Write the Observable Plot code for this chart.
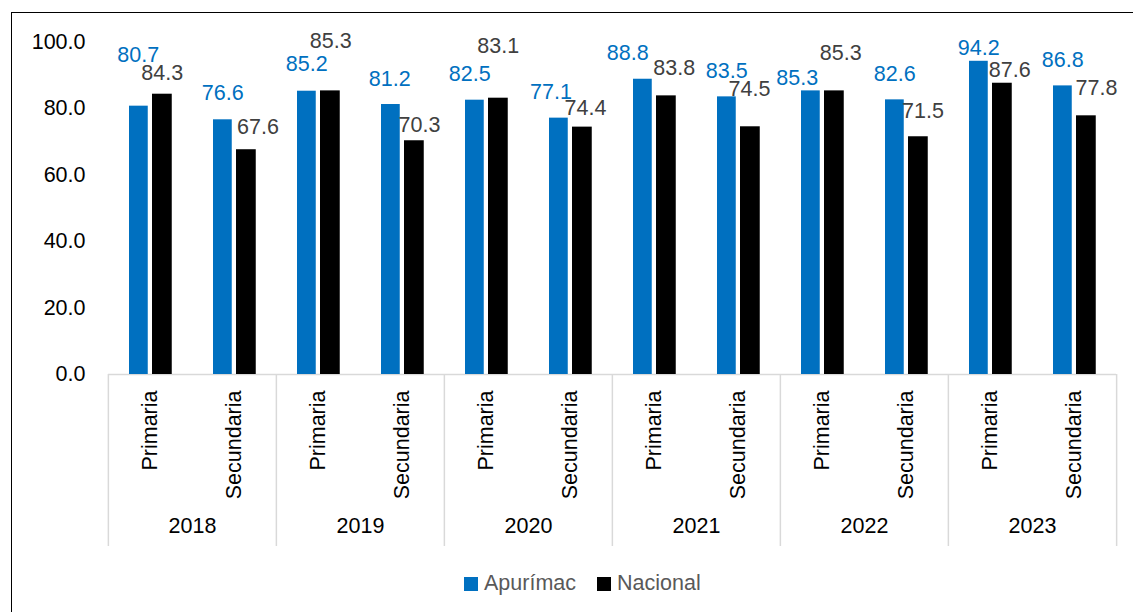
<!DOCTYPE html>
<html><head><meta charset="utf-8">
<script src="https://cdn.jsdelivr.net/npm/d3@7"></script>
<script src="https://cdn.jsdelivr.net/npm/@observablehq/plot@0.6"></script>
<style>
body{margin:0;width:1133px;height:612px;overflow:hidden;background:#fff;font-family:"Liberation Sans",Arial,sans-serif;position:relative}
#frame{position:absolute;left:11px;top:12px;width:1300px;height:800px;border-left:1.5px solid #000;border-top:1.5px solid #000;box-sizing:border-box}
#chart{position:absolute;left:0;top:0}
#legend{position:absolute;top:571px;left:464px;display:flex;align-items:center;font-size:21.5px;color:#595959;white-space:nowrap}
#legend .sw{width:14px;height:14px;display:inline-block;margin-right:6px}
#legend .it{display:flex;align-items:center;margin-right:21px}
</style></head>
<body>
<div id="frame"></div>
<div id="chart"></div>
<div id="legend"></div>
<script>
const years = ["2018","2019","2020","2021","2022","2023"];
const levels = ["Primaria","Secundaria"];
const series = ["Apurímac","Nacional"];
const apurimac = [80.7,76.6,85.2,81.2,82.5,77.1,88.8,83.5,85.3,82.6,94.2,86.8];
const nacional = [84.3,67.6,85.3,70.3,83.1,74.4,83.8,74.5,85.3,71.5,87.6,77.8];
const yTicks = [0,20,40,60,80,100];
const colors = {"Apurímac":"#0070C0","Nacional":"#000000"};
const labelColors = {"Apurímac":"#0070C0","Nacional":"#404040"};

// label nudges (pixels) relative to bar center/top, as placed in the original
const apNudge = [[-0.5,-50.7],[0,-26.3],[0,-26.7],[-1,-25],[-5,-25.7],[-7.75,-25.6],[-15,-25.7],[0,-25.4],[-13.5,-12.4],[0,-25.4],[0,-12.8],[0,-25.4]];
const naNudge = [[0,-20.7],[11.75,-22.2],[0.5,-49.4],[5.25,-15.3],[0,-51.7],[3.25,-18.6],[8,-27.4],[-0.75,-37.3],[6.5,-37.4],[4.75,-25.3],[7.5,-12.7],[10.25,-27.3]];

const rows = [];
years.forEach((yr, i) => levels.forEach((lv, j) => {
  const k = i*2 + j;
  rows.push({year: yr, level: lv, series: series[0], value: apurimac[k], nudge: apNudge[k]});
  rows.push({year: yr, level: lv, series: series[1], value: nacional[k], nudge: naNudge[k]});
}));

const fs = 21.5;
const bandHalf = 11.75;
const labelMarks = rows.map(r => Plot.text([r], {
  fx: "year", x: "level", y: "value",
  text: d => d3.format(".1f")(d.value),
  fill: labelColors[r.series], fontSize: fs,
  dx: (r.series === series[0] ? -bandHalf : bandHalf) + r.nudge[0],
  dy: r.nudge[1]
}));

const plot = Plot.plot({
  width: 1133, height: 560,
  marginLeft: 106, marginRight: 16, marginTop: 41.5, marginBottom: 186,
  style: {fontFamily: '"Liberation Sans", Arial, sans-serif', fontSize: fs + "px", background: "transparent", color: "#000"},
  fx: {domain: years, padding: 0, axis: null},
  x: {domain: levels, padding: 0},
  y: {domain: [0, 100]},
  marks: [
    Plot.ruleY([0], {stroke: "#d9d9d9", strokeWidth: 1.5}),
    Plot.ruleX(years, {fx: d => d, x: () => levels[0], dx: -42.125, insetTop: 332.5, insetBottom: -172, stroke: "#d9d9d9", strokeWidth: 1.5}),
    Plot.ruleX([years[years.length-1]], {fx: d => d, x: () => levels[1], dx: 42.125, insetTop: 332.5, insetBottom: -172, stroke: "#d9d9d9", strokeWidth: 1.5}),
    Plot.barY(rows.filter(r => r.series === series[0]), {fx: "year", x: "level", y: "value", fill: colors[series[0]], insetLeft: 21, insetRight: 44.25}),
    Plot.barY(rows.filter(r => r.series === series[1]), {fx: "year", x: "level", y: "value", fill: colors[series[1]], insetLeft: 44, insetRight: 20.25}),
    Plot.axisY({ticks: yTicks, tickFormat: d3.format(".1f"), tickSize: 0, tickPadding: 23, fontSize: fs, fill: "#000", label: null}),
    Plot.axisX({tickRotate: -90, tickSize: 0, tickPadding: 16, fontSize: fs, fill: "#000", label: null}),
    Plot.text(years, {fx: d => d, frameAnchor: "bottom", dy: 158, text: d => d, fontSize: fs, fill: "#000"}),
    ...labelMarks
  ]
});
document.getElementById("chart").appendChild(plot);

const lg = document.getElementById("legend");
series.forEach(s => {
  const it = document.createElement("span"); it.className = "it";
  const sw = document.createElement("span"); sw.className = "sw"; sw.style.background = colors[s];
  it.appendChild(sw); it.appendChild(document.createTextNode(s));
  lg.appendChild(it);
});
</script>
</body></html>
